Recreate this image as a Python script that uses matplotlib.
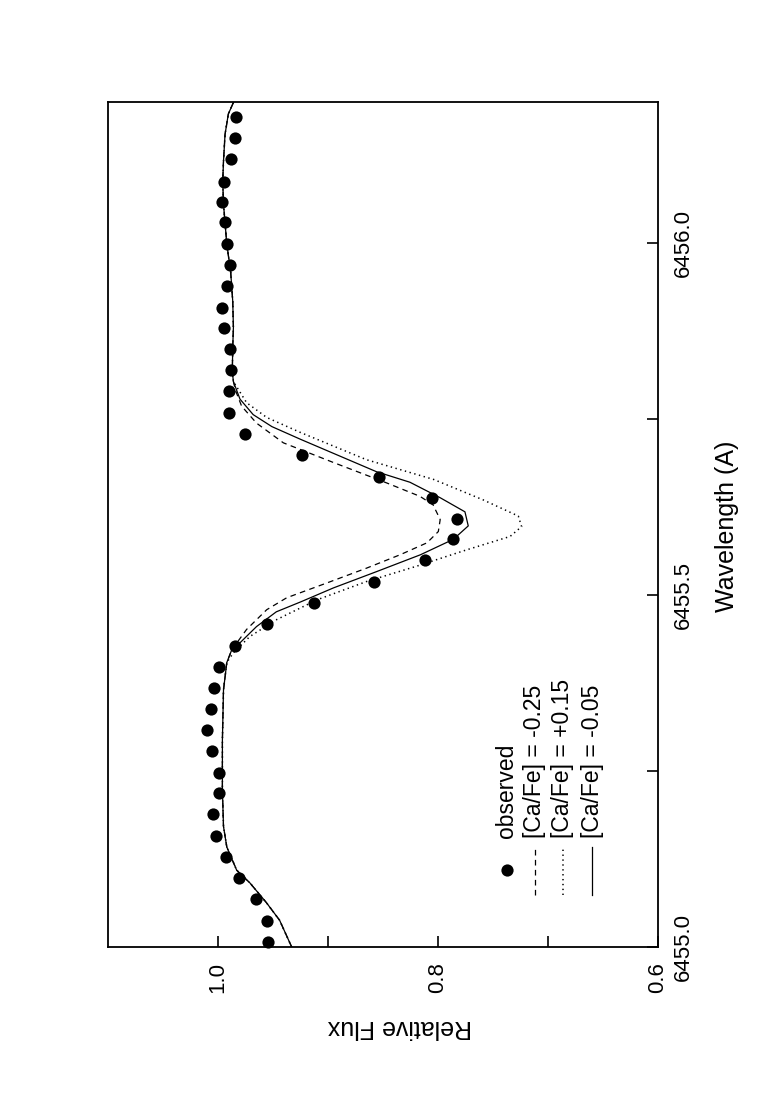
import matplotlib
matplotlib.use("Agg")
import matplotlib.pyplot as plt
import numpy as np

plt.rcParams['font.family'] = ['Liberation Sans', 'DejaVu Sans']

# ---------------- data ----------------
obs_wl = [6455.007, 6455.037, 6455.068, 6455.098, 6455.128, 6455.158, 6455.189, 6455.218,
          6455.247, 6455.279, 6455.308, 6455.338, 6455.368, 6455.398, 6455.428, 6455.458,
          6455.489, 6455.519, 6455.549, 6455.579, 6455.608, 6455.638, 6455.668, 6455.698,
          6455.728, 6455.759, 6455.789, 6455.819, 6455.849, 6455.879, 6455.908, 6455.938,
          6455.968, 6455.998, 6456.029, 6456.058, 6456.087, 6456.119, 6456.149, 6456.178]
obs_flux = [0.9545, 0.9555, 0.9655, 0.9809, 0.9927, 1.0018, 1.0045, 0.9991,
            0.9991, 1.0055, 1.0100, 1.0064, 1.0036, 0.9991, 0.9845, 0.9555,
            0.9127, 0.8582, 0.8118, 0.7864, 0.7827, 0.8055, 0.8536, 0.9236,
            0.9755, 0.9900, 0.9900, 0.9882, 0.9891, 0.9945, 0.9964, 0.9918,
            0.9891, 0.9918, 0.9936, 0.9964, 0.9945, 0.9882, 0.9845, 0.9836]

# shared synthetic continuum (blue and red of the line)
cont_blue_wl = [6455.000, 6455.038, 6455.063, 6455.091, 6455.109, 6455.142, 6455.171,
                6455.223, 6455.294, 6455.365, 6455.404]
cont_blue_flux = [0.933, 0.944, 0.956, 0.971, 0.983, 0.992, 0.995,
                  0.996, 0.996, 0.995, 0.992]
cont_red_wl = [6455.803, 6455.817, 6455.851, 6455.880, 6455.917, 6455.959, 6455.998,
               6456.055, 6456.087, 6456.116, 6456.154, 6456.183, 6456.201]
cont_red_flux = [0.986, 0.987, 0.9866, 0.986, 0.9866, 0.9885, 0.992,
                 0.995, 0.9957, 0.995, 0.9936, 0.9906, 0.9855]

# line cores for each [Ca/Fe]
core_m005_wl = [6455.422, 6455.432, 6455.455, 6455.476, 6455.490, 6455.510, 6455.533,
                6455.557, 6455.579, 6455.598, 6455.618, 6455.638, 6455.660, 6455.675,
                6455.697, 6455.721, 6455.739, 6455.756, 6455.778]
core_m005_flux = [0.9875, 0.980, 0.965, 0.947, 0.925, 0.895, 0.856,
                  0.816, 0.786, 0.7725, 0.7755, 0.798, 0.8255, 0.856,
                  0.889, 0.925, 0.951, 0.968, 0.980]

core_m025_wl = [6455.422, 6455.451, 6455.479, 6455.496, 6455.517, 6455.538, 6455.557,
                6455.574, 6455.590, 6455.607, 6455.628, 6455.640, 6455.659, 6455.688,
                6455.716, 6455.744, 6455.768, 6455.790]
core_m025_flux = [0.9875, 0.974, 0.9557, 0.9375, 0.901, 0.865, 0.8345,
                  0.810, 0.7997, 0.798, 0.8045, 0.8164, 0.8466, 0.895,
                  0.9406, 0.965, 0.9785, 0.984]

core_p015_wl = [6455.418, 6455.441, 6455.465, 6455.493, 6455.519, 6455.541, 6455.564,
                6455.583, 6455.597, 6455.612, 6455.635, 6455.664, 6455.692, 6455.731,
                6455.752, 6455.773]
core_p015_flux = [0.986, 0.971, 0.9466, 0.910, 0.865, 0.819, 0.774,
                  0.7345, 0.724, 0.727, 0.759, 0.804, 0.865, 0.9255,
                  0.9557, 0.974]

flux_ticks = [0.6, 0.7, 0.8, 0.9, 1.0]
flux_labels = ['0.6', '', '0.8', '', '1.0']
wl_ticks = [6455.0, 6455.25, 6455.5, 6455.75, 6456.0]
wl_labels = ['6455.0', '', '6455.5', '', '6456.0']

legend_labels = ['observed', '[Ca/Fe] = -0.25', '[Ca/Fe] = +0.15', '[Ca/Fe] = -0.05']


def model(core_wl, core_flux):
    wl = cont_blue_wl[:-1] if core_wl[0] <= cont_blue_wl[-1] else cont_blue_wl
    fl = cont_blue_flux[:len(wl)]
    return (np.array(list(wl) + list(core_wl) + cont_red_wl),
            np.array(list(fl) + list(core_flux) + cont_red_flux))


# ---------------- figure ----------------
W, H = 778, 1107
fig = plt.figure(figsize=(W / 100, H / 100), dpi=100)
ax = fig.add_axes([108 / W, (H - 947) / H, 550 / W, 845 / H])

lw = 0.9
dash_style = (0, (4.5, 3.5))
dot_lw = 1.1
dot_style = (0, (0.9, 2.3))

wl, fl = model(core_m025_wl, core_m025_flux)
ax.plot(fl, wl, color='black', lw=lw, linestyle=dash_style)
wl, fl = model(core_p015_wl, core_p015_flux)
ax.plot(fl, wl, color='black', lw=dot_lw, linestyle=dot_style)
wl, fl = model(core_m005_wl, core_m005_flux)
ax.plot(fl, wl, color='black', lw=lw, linestyle='-')

ax.plot(obs_flux, obs_wl, 'o', color='black', ms=8.8, mew=0, clip_on=False)

ax.set_xlim(1.1, 0.6)
ax.set_ylim(6455.0, 6456.2)

ax.set_xticks(flux_ticks)
ax.set_xticklabels(flux_labels, rotation=90, fontsize=16)
ax.yaxis.tick_right()
ax.set_yticks(wl_ticks)
ax.set_yticklabels(wl_labels, rotation=90, fontsize=16, va='center')
ax.tick_params(axis='x', direction='in', length=8, width=1.2, pad=11, top=False)
ax.tick_params(axis='y', direction='in', length=8, width=1.2, pad=11, left=False)
for s in ax.spines.values():
    s.set_linewidth(1.3)

fig.text(400 / W, 1 - 1027 / H, 'Relative Flux', rotation=180, fontsize=18,
         ha='center', va='center')
fig.text(727 / W, 1 - 526 / H, 'Wavelength (A)', rotation=90, fontsize=18,
         ha='center', va='center')

# ---------------- legend (drawn rotated, in axes coordinates) ----------------
T = ax.transAxes
def ax_x(px):
    return (px - 108) / 550
def ax_y(py):
    return (947 - py) / 845

leg_x = [507, 535, 563, 592]
ax.plot([ax_x(leg_x[0])], [ax_y(870)], 'o', color='black', ms=8.8, mew=0, transform=T)
ax.plot([ax_x(leg_x[1])] * 2, [ax_y(895), ax_y(847)], color='black', lw=lw,
        linestyle=dash_style, transform=T)
ax.plot([ax_x(leg_x[2])] * 2, [ax_y(895), ax_y(847)], color='black', lw=dot_lw,
        linestyle=dot_style, transform=T)
ax.plot([ax_x(leg_x[3])] * 2, [ax_y(895), ax_y(847)], color='black', lw=lw,
        linestyle='-', transform=T)
for px, lab in zip(leg_x, legend_labels):
    ax.text(ax_x(px), ax_y(838), lab, rotation=90, fontsize=16.5, ha='center',
            va='bottom', transform=T)

fig.savefig('out.png', dpi=100)
